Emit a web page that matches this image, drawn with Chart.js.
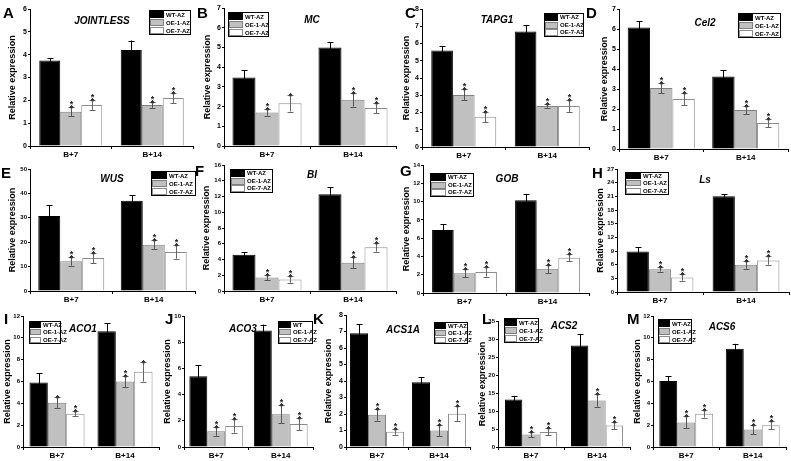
<!DOCTYPE html>
<html>
<head>
<meta charset="utf-8">
<script src="https://cdn.jsdelivr.net/npm/chart.js@4.4.1/dist/chart.umd.min.js"></script>
<style>
  body { margin: 0; background: #fff; }
  #fig { position: relative; width: 791px; height: 461px; overflow: hidden; font-family: Arial, "Liberation Sans", sans-serif; }
  #fig canvas { position: absolute; }
  .letter { position: absolute; font-weight: bold; font-size: 15px; line-height: 1; color: #000; }
</style>
</head>
<body>
<div id="fig"></div>
<script>
// categories and series
const categories = ['B+7', 'B+14'];
const seriesNames = ['WT-AZ', 'OE-1-AZ', 'OE-7-AZ'];
const seriesNamesJ = ['WT', 'OE-1-AZ', 'OE-7-AZ'];

// A - JOINTLESS  (rows: WT, OE-1, OE-7; cols: B+7, B+14)
const aMean = [[3.75, 4.2], [1.5, 1.8], [1.8, 2.1]];
const aErr = [[0.1, 0.42], [0.2, 0.13], [0.22, 0.22]];
const aStars = [['', ''], ['**', '**'], ['**', '**']];
const aTicks = [6, 1];

// B - MC
const bMean = [[3.47, 5.0], [1.7, 2.35], [2.17, 1.93]];
const bErr = [[0.38, 0.26], [0.16, 0.35], [0.42, 0.27]];
const bStars = [['', ''], ['**', '**'], ['*', '**']];
const bTicks = [7, 1];

// C - TAPG1
const cMean = [[5.6, 6.7], [3.02, 2.38], [1.75, 2.38]];
const cErr = [[0.25, 0.38], [0.32, 0.1], [0.3, 0.35]];
const cStars = [['', ''], ['**', '**'], ['**', '**']];
const cTicks = [8, 1];

// D - Cel2
const dMean = [[6.08, 3.62], [3.05, 1.95], [2.5, 1.3]];
const dErr = [[0.3, 0.33], [0.25, 0.2], [0.3, 0.2]];
const dStars = [['', ''], ['**', '**'], ['**', '**']];
const dTicks = [7, 1];

// E - WUS
const eMean = [[30.7, 37], [12.2, 19], [13.5, 16]];
const eErr = [[4.5, 2.3], [1.8, 1.7], [2.0, 2.7]];
const eStars = [['', ''], ['**', '**'], ['**', '**']];
const eTicks = [50, 10];

// F - BI
const fMean = [[4.6, 12.3], [1.7, 3.6], [1.45, 5.55]];
const fErr = [[0.3, 0.9], [0.35, 0.7], [0.4, 0.55]];
const fStars = [['', ''], ['**', '**'], ['**', '**']];
const fTicks = [16, 2];

// G - GOB
const gMean = [[6.9, 10.15], [2.15, 2.65], [2.3, 3.85]];
const gErr = [[0.6, 0.7], [0.45, 0.45], [0.5, 0.4]];
const gStars = [['', ''], ['**', '**'], ['**', '**']];
const gTicks = [14, 2];

// H - Ls
const hMean = [[8.9, 21], [5.0, 6.0], [3.2, 6.9]];
const hErr = [[0.9, 0.5], [0.5, 0.9], [0.7, 0.9]];
const hStars = [['', ''], ['**', '**'], ['**', '**']];
const hTicks = [27, 3];

// I - ACO1
const iMean = [[5.9, 10.6], [4.05, 6.0], [3.05, 6.9]];
const iErr = [[0.85, 0.75], [0.5, 0.5], [0.25, 0.9]];
const iStars = [['', ''], ['*', '**'], ['**', '*']];
const iTicks = [12, 2];

// J - ACO3
const jMean = [[5.4, 8.9], [1.2, 2.5], [1.6, 1.75]];
const jErr = [[0.85, 0.45], [0.35, 0.7], [0.5, 0.45]];
const jStars = [['', ''], ['**', '**'], ['**', '**']];
const jTicks = [10, 2];

// K - ACS1A
const kMean = [[6.9, 3.93], [1.95, 1.0], [0.92, 2.02]];
const kErr = [[0.55, 0.3], [0.35, 0.35], [0.18, 0.45]];
const kStars = [['', ''], ['**', '**'], ['**', '**']];
const kTicks = [8, 1];

// L - ACS2
const lMean = [[13.2, 28.2], [3.5, 12.9], [4.2, 6.0]];
const lErr = [[1.0, 3.2], [0.8, 1.7], [1.0, 1.0]];
const lStars = [['', ''], ['**', '**'], ['**', '**']];
const lTicks = [35, 5];

// M - ACS6
const mMean = [[6.05, 9.0], [2.25, 1.6], [3.05, 2.0]];
const mErr = [[0.45, 0.45], [0.55, 0.45], [0.35, 0.35]];
const mStars = [['', ''], ['**', '**'], ['**', '**']];
const mTicks = [12, 2];

// layout (page px): axis x, top tick y, zero y, group centres, group width,
// legend box, gene title centre, letter pos, y-title offset
const panels = [
  {letter: 'A', gene: 'JOINTLESS', mean: aMean, err: aErr, stars: aStars, ticks: aTicks, names: seriesNames,
   ax: 30, top: 9, zero: 146, c1: 71.5, c2: 152, gw: 63, leg: [149, 10, 190, 34], tt: [102, 21], lp: [3, 5], td: 17},
  {letter: 'B', gene: 'MC', mean: bMean, err: bErr, stars: bStars, ticks: bTicks, names: seriesNames,
   ax: 224, top: 8, zero: 146, c1: 266.5, c2: 353, gw: 69, leg: [228, 12, 268, 36], tt: [312, 20], lp: [197, 5], td: 16},
  {letter: 'C', gene: 'TAPG1', mean: cMean, err: cErr, stars: cStars, ticks: cTicks, names: seriesNames,
   ax: 422, top: 9, zero: 147, c1: 464.5, c2: 547, gw: 65, leg: [544, 13, 583, 36], tt: [497, 20], lp: [405, 5], td: 15},
  {letter: 'D', gene: 'Cel2', mean: dMean, err: dErr, stars: dStars, ticks: dTicks, names: seriesNames,
   ax: 619, top: 9, zero: 149, c1: 661.5, c2: 745.5, gw: 67, leg: [738, 13, 780, 37], tt: [705, 23], lp: [586, 5], td: 14},
  {letter: 'E', gene: 'WUS', mean: eMean, err: eErr, stars: eStars, ticks: eTicks, names: seriesNames,
   ax: 30, top: 169, zero: 291, c1: 73.7, c2: 153, gw: 66, leg: [151, 171, 195, 195], tt: [112, 179], lp: [1, 165], td: 17},
  {letter: 'F', gene: 'BI', mean: fMean, err: fErr, stars: fStars, ticks: fTicks, names: seriesNames,
   ax: 224, top: 165, zero: 291, c1: 266.5, c2: 353, gw: 69, leg: [230, 169, 272, 192], tt: [312, 175], lp: [195, 163], td: 17},
  {letter: 'G', gene: 'GOB', mean: gMean, err: gErr, stars: gStars, ticks: gTicks, names: seriesNames,
   ax: 423, top: 165, zero: 293, c1: 465.5, c2: 547.5, gw: 65, leg: [430, 173, 473, 196], tt: [507, 179], lp: [400, 163], td: 16},
  {letter: 'H', gene: 'Ls', mean: hMean, err: hErr, stars: hStars, ticks: hTicks, names: seriesNames,
   ax: 617, top: 169, zero: 292, c1: 662.5, c2: 745.5, gw: 67, leg: [625, 172, 668, 194], tt: [705, 180], lp: [592, 165], td: 16},
  {letter: 'I', gene: 'ACO1', mean: iMean, err: iErr, stars: iStars, ticks: iTicks, names: seriesNames,
   ax: 23, top: 316, zero: 447, c1: 56.5, c2: 125, gw: 55, leg: [29, 321, 60, 343], tt: [83, 329], lp: [4, 311], td: 15},
  {letter: 'J', gene: 'ACO3', mean: jMean, err: jErr, stars: jStars, ticks: jTicks, names: seriesNamesJ,
   ax: 184, top: 316, zero: 447, c1: 215, c2: 281.5, gw: 54, leg: [278, 321, 312, 343], tt: [243, 329], lp: [165, 311], td: 16},
  {letter: 'K', gene: 'ACS1A', mean: kMean, err: kErr, stars: kStars, ticks: kTicks, names: seriesNames,
   ax: 346, top: 315, zero: 447, c1: 373.5, c2: 440, gw: 54, leg: [434, 322, 467, 343], tt: [403, 330], lp: [313, 311], td: 17},
  {letter: 'L', gene: 'ACS2', mean: lMean, err: lErr, stars: lStars, ticks: lTicks, names: seriesNames,
   ax: 498, top: 321, zero: 447, c1: 532, c2: 596.5, gw: 52, leg: [504, 318, 538, 342], tt: [564, 326], lp: [482, 311], td: 15},
  {letter: 'M', gene: 'ACS6', mean: mMean, err: mErr, stars: mStars, ticks: mTicks, names: seriesNames,
   ax: 653, top: 316, zero: 447, c1: 686, c2: 753, gw: 54, leg: [658, 319, 691, 343], tt: [722, 327], lp: [627, 311], td: 15}
];

const FONT = 'Arial, "Liberation Sans", sans-serif';
const fills = ['#000000', '#c0c0c0', '#ffffff'];
const borders = ['#000000', '#7f7f7f', '#8c8c8c'];
const errColors = ['#000000', '#555555', '#666666'];

const PAD_TOP = 8, PAD_RIGHT = 4, Y_W = 30, X_H = 22;

// error bars, stars, legend, gene name, y title
const extrasPlugin = {
  id: 'extras',
  afterDatasetsDraw(chart, args, opts) {
    const p = opts.panel;
    const ctx = chart.ctx;
    const yScale = chart.scales.y;
    const ox = p.ax - Y_W, oy = p.top - PAD_TOP;
    ctx.save();
    chart.data.datasets.forEach((ds, i) => {
      chart.getDatasetMeta(i).data.forEach((bar, j) => {
        const m = p.mean[i][j], e = p.err[i][j];
        const hi = yScale.getPixelForValue(m + e);
        const lo = yScale.getPixelForValue(Math.max(m - e, 0));
        const x = Math.round(bar.x) + 0.5;
        ctx.strokeStyle = errColors[i];
        ctx.lineWidth = 1;
        ctx.beginPath();
        ctx.moveTo(x, lo); ctx.lineTo(x, hi);
        ctx.moveTo(x - 3, Math.round(hi) + 0.5); ctx.lineTo(x + 3, Math.round(hi) + 0.5);
        ctx.moveTo(x - 3, Math.round(lo) + 0.5); ctx.lineTo(x + 3, Math.round(lo) + 0.5);
        ctx.stroke();
        const s = p.stars[i][j];
        ctx.fillStyle = '#222';
        ctx.font = 'bold 9px ' + FONT;
        ctx.textAlign = 'center';
        ctx.textBaseline = 'alphabetic';
        for (let k = 0; k < s.length; k++) {
          ctx.fillText('*', x, hi + 4 - k * 4);
        }
      });
    });

    // gene title
    ctx.fillStyle = '#000';
    ctx.font = 'italic bold 10px ' + FONT;
    ctx.textAlign = 'center';
    ctx.textBaseline = 'middle';
    ctx.fillText(p.gene, p.tt[0] - ox, p.tt[1] - oy);

    // legend
    const [x0, y0, x1, y1] = p.leg.map((v, k) => v - (k % 2 ? oy : ox));
    const rh = (y1 - y0) / 3;
    const sw = Math.round((x1 - x0) * 0.34);
    p.names.forEach((name, i) => {
      const ry = Math.round(y0 + i * rh) + 1;
      ctx.fillStyle = fills[i];
      ctx.fillRect(x0 + 1, ry, sw, Math.round(rh) - 1);
      if (i > 0) {
        ctx.strokeStyle = borders[i];
        ctx.strokeRect(x0 + 1.5, ry + 0.5, sw - 1, Math.round(rh) - 2);
      }
      ctx.fillStyle = '#000';
      ctx.font = 'bold 6px ' + FONT;
      ctx.textAlign = 'left';
      ctx.textBaseline = 'middle';
      ctx.fillText(name, x0 + sw + 3, ry + rh / 2);
    });
    ctx.strokeStyle = '#000';
    ctx.strokeRect(Math.round(x0) + 0.5, Math.round(y0) + 0.5, Math.round(x1 - x0), Math.round(y1 - y0));

    // y axis title
    const ca = chart.chartArea;
    ctx.translate(ca.left - p.td, (ca.top + ca.bottom) / 2);
    ctx.rotate(-Math.PI / 2);
    ctx.font = 'bold 9px ' + FONT;
    ctx.textAlign = 'center';
    ctx.textBaseline = 'middle';
    ctx.fillText('Relative expression', 0, 0);
    ctx.restore();
  }
};

const fig = document.getElementById('fig');

panels.forEach(p => {
  const catW = ((p.c1 - p.ax) * 0.5 + (p.c2 - p.ax) * 1.5) / 2.5;
  const right = p.ax + 2 * catW;
  const left = p.ax - Y_W;
  const topC = p.top - PAD_TOP;
  const twoDigit = p.ticks[0] >= 10;
  const canvas = document.createElement('canvas');
  canvas.width = Math.round(right - left + PAD_RIGHT);
  canvas.height = Math.round(p.zero + X_H - topC);
  canvas.style.left = left + 'px';
  canvas.style.top = topC + 'px';
  fig.appendChild(canvas);

  const letter = document.createElement('div');
  letter.className = 'letter';
  letter.textContent = p.letter;
  letter.style.left = p.lp[0] + 'px';
  letter.style.top = p.lp[1] + 'px';
  fig.appendChild(letter);

  const catPct = Math.min(p.gw / catW, 1);
  const datasets = p.names.map((name, i) => ({
    label: name,
    data: p.mean[i],
    backgroundColor: fills[i],
    borderColor: borders[i],
    borderWidth: 1,
    categoryPercentage: catPct,
    barPercentage: 1
  }));

  new Chart(canvas, {
    type: 'bar',
    data: {labels: categories, datasets: datasets},
    options: {
      responsive: false,
      animation: false,
      devicePixelRatio: 1,
      layout: {padding: {top: PAD_TOP, right: PAD_RIGHT, left: 0, bottom: 0}},
      plugins: {
        legend: {display: false},
        tooltip: {enabled: false},
        extras: {panel: p}
      },
      scales: {
        x: {
          grid: {drawOnChartArea: false, color: '#000', tickLength: 3},
          border: {color: '#000', width: 1},
          ticks: {color: '#000', padding: 1, font: {family: FONT, size: 8, weight: 'bold'}},
          afterFit: s => { s.height = X_H; }
        },
        y: {
          min: 0,
          max: p.ticks[0],
          grid: {drawOnChartArea: false, color: '#000', tickLength: 2},
          border: {color: '#000', width: 1},
          ticks: {stepSize: p.ticks[1], color: '#000', padding: 1,
                  font: {family: FONT, size: twoDigit ? 6 : 7, weight: 'bold'}},
          afterFit: s => { s.width = Y_W; }
        }
      }
    },
    plugins: [extrasPlugin]
  });
});
</script>
</body>
</html>
